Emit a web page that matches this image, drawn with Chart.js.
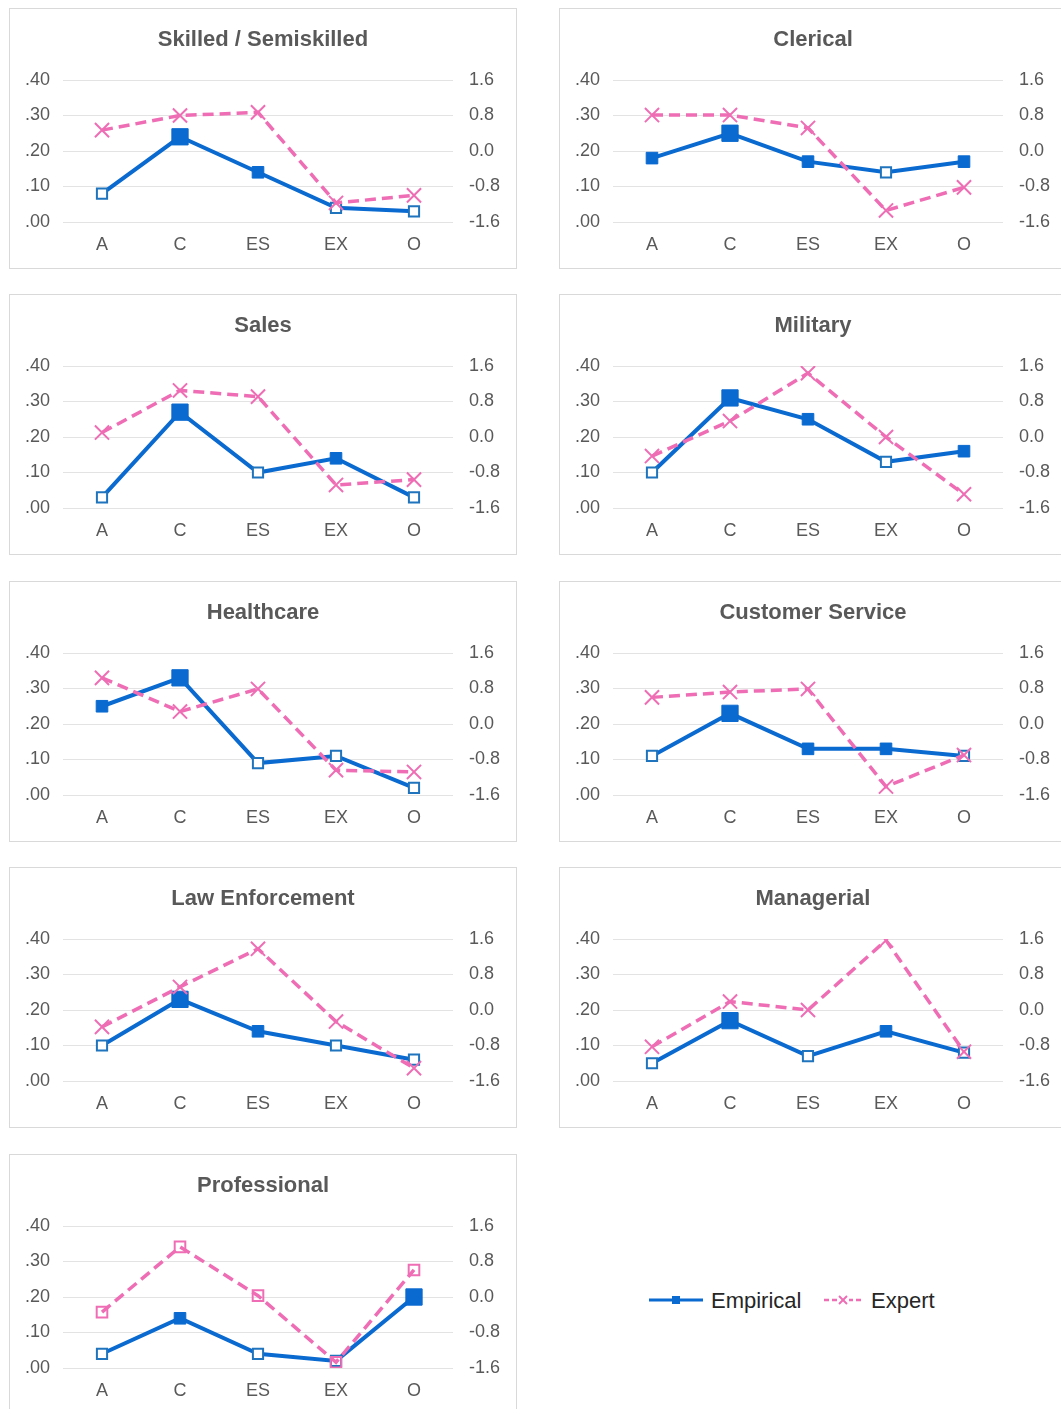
<!DOCTYPE html>
<html>
<head>
<meta charset="utf-8">
<script src="https://cdn.jsdelivr.net/npm/chart.js@4.4.1/dist/chart.umd.min.js"></script>
<style>
  html, body { margin: 0; padding: 0; background: #ffffff; overflow: hidden; width: 1061px; height: 1409px; }
  #page { position: relative; width: 1061px; height: 1409px; overflow: hidden; }
  .panel { position: absolute; width: 508px; height: 261px; }
  .panel canvas { position: absolute; left: 0; top: 0; }
  .frame { position: absolute; left: 0; top: 0; width: 508px; height: 261px; box-sizing: border-box; border: 1px solid #d9d9d9; pointer-events: none; }
  #legend { position: absolute; left: 640px; top: 1280px; }
</style>
</head>
<body>
<div id="page"></div>
<script>
// Big Five trait categories on the x axis
const categories = ['A', 'C', 'ES', 'EX', 'O'];

const panelTitles = [
  'Skilled / Semiskilled', 'Clerical',
  'Sales', 'Military',
  'Healthcare', 'Customer Service',
  'Law Enforcement', 'Managerial',
  'Professional'
];

// Empirical validities (left axis, .00 – .40)
const empiricalValues = [
  [0.08, 0.24, 0.14, 0.04, 0.03],
  [0.18, 0.25, 0.17, 0.14, 0.17],
  [0.03, 0.27, 0.10, 0.14, 0.03],
  [0.10, 0.31, 0.25, 0.13, 0.16],
  [0.25, 0.33, 0.09, 0.11, 0.02],
  [0.11, 0.23, 0.13, 0.13, 0.11],
  [0.10, 0.23, 0.14, 0.10, 0.06],
  [0.05, 0.17, 0.07, 0.14, 0.08],
  [0.04, 0.14, 0.04, 0.02, 0.20]
];

// Marker class of each empirical point: 2 = strongest, 1 = notable, 0 = other
const empiricalLevel = [
  [0, 2, 1, 0, 0],
  [1, 2, 1, 0, 1],
  [0, 2, 0, 1, 0],
  [0, 2, 1, 0, 1],
  [1, 2, 0, 0, 0],
  [0, 2, 1, 1, 0],
  [0, 2, 1, 0, 0],
  [0, 2, 0, 1, 0],
  [0, 1, 0, 0, 2]
];

// Expert ratings (right axis, -1.6 – 1.6)
const expertValues = [
  [0.47, 0.80, 0.87, -1.17, -1.00],
  [0.81, 0.81, 0.52, -1.34, -0.82],
  [0.10, 1.05, 0.91, -1.08, -0.96],
  [-0.43, 0.36, 1.44, 0.00, -1.29],
  [1.04, 0.28, 0.79, -1.04, -1.08],
  [0.60, 0.72, 0.79, -1.41, -0.70],
  [-0.38, 0.52, 1.38, -0.26, -1.31],
  [-0.83, 0.19, 0.00, 1.57, -0.94],
  [-0.34, 1.13, 0.03, -1.47, 0.61]
];

const leftTicks = [0, 0.10, 0.20, 0.30, 0.40];
const rightTicks = [-1.6, -0.8, 0.0, 0.8, 1.6];

// Panels whose expert markers are drawn as open squares
const squareExpertPanels = ['Professional'];

const BLUE = '#0a6ad0';
const BLUE_OPEN = '#1f74bd';
const PINK = '#ee6db4';
const TEXT = '#595959';
const GRID = '#e3e3e3';
const FONT = '"Liberation Sans", Arial, sans-serif';

function fmtLeft(v) {
  return Number(v).toFixed(2).replace(/^0/, '').replace(/^-0/, '-');
}
function fmtRight(v) {
  const s = Number(v).toFixed(1);
  return s === '-0.0' ? '0.0' : s;
}

const page = document.getElementById('page');

function makePanel(i) {
  const col = i % 2;
  const row = Math.floor(i / 2);
  const left = col === 0 ? 9 : 559;
  const top = Math.round(7.5 + 286.5 * row);

  const wrap = document.createElement('div');
  wrap.className = 'panel';
  wrap.style.left = left + 'px';
  wrap.style.top = top + 'px';
  const canvas = document.createElement('canvas');
  canvas.width = 508;
  canvas.height = 261;
  canvas.style.width = '508px';
  canvas.style.height = '261px';
  wrap.appendChild(canvas);
  const frame = document.createElement('div');
  frame.className = 'frame';
  wrap.appendChild(frame);
  page.appendChild(wrap);

  const lv = empiricalLevel[i];
  const squareExpert = squareExpertPanels.includes(panelTitles[i]);

  new Chart(canvas, {
    type: 'line',
    data: {
      labels: categories,
      datasets: [
        {
          label: 'Empirical',
          data: empiricalValues[i],
          yAxisID: 'y',
          order: 2,
          borderColor: BLUE,
          borderWidth: 4,
          tension: 0,
          fill: false,
          pointStyle: 'rect',
          pointRadius: lv.map(l => l === 2 ? 11.5 : (l === 1 ? 8.2 : 7.2)),
          pointBackgroundColor: lv.map(l => l === 0 ? '#ffffff' : BLUE),
          pointBorderColor: lv.map(l => l === 0 ? BLUE_OPEN : BLUE),
          pointBorderWidth: lv.map(l => l === 0 ? 2 : 1)
        },
        {
          label: 'Expert',
          data: expertValues[i],
          yAxisID: 'y2',
          order: 1,
          borderColor: PINK,
          borderWidth: 3.5,
          borderDash: [11, 6],
          tension: 0,
          fill: false,
          pointStyle: squareExpert ? 'rect' : 'crossRot',
          pointRadius: squareExpert ? 7.5 : 10,
          pointBackgroundColor: squareExpert ? 'rgba(255,255,255,0)' : PINK,
          pointBorderColor: PINK,
          pointBorderWidth: 2
        }
      ]
    },
    options: {
      responsive: false,
      animation: false,
      events: [],
      layout: { padding: 0 },
      plugins: {
        legend: { display: false },
        tooltip: { enabled: false },
        title: {
          display: true,
          text: panelTitles[i],
          color: TEXT,
          font: { family: FONT, size: 22, weight: 'bold' },
          padding: { top: 19, bottom: 26.6 }
        }
      },
      scales: {
        x: {
          type: 'category',
          offset: true,
          grid: { display: false, drawTicks: false },
          border: { display: false },
          ticks: { color: TEXT, font: { family: FONT, size: 18 }, padding: 12, maxRotation: 0 },
          afterFit: s => { s.height = 47; }
        },
        y: {
          position: 'left',
          min: 0,
          max: 0.4,
          afterBuildTicks: s => { s.ticks = leftTicks.map(v => ({ value: v })); },
          ticks: { color: TEXT, font: { family: FONT, size: 18 }, padding: 13, callback: v => fmtLeft(v) },
          grid: { color: GRID, lineWidth: 1, drawTicks: false },
          border: { display: false },
          afterFit: s => { s.width = 54; }
        },
        y2: {
          position: 'right',
          min: -1.6,
          max: 1.6,
          afterBuildTicks: s => { s.ticks = rightTicks.map(v => ({ value: v })); },
          ticks: { color: TEXT, font: { family: FONT, size: 18 }, padding: 16, callback: v => fmtRight(v) },
          grid: { display: false, drawTicks: false },
          border: { display: false },
          afterFit: s => { s.width = 64; }
        }
      }
    }
  });
}

for (let i = 0; i < panelTitles.length; i++) makePanel(i);

// Series key in the empty ninth cell
const legendSvg = `
<svg id="legend" width="320" height="40" xmlns="http://www.w3.org/2000/svg">
  <line x1="9" y1="20" x2="63" y2="20" stroke="${BLUE}" stroke-width="3"/>
  <rect x="32" y="16" width="8" height="8" fill="${BLUE}"/>
  <text x="71" y="20" dominant-baseline="central" font-family='${FONT}' font-size="22" fill="#262626">Empirical</text>
  <line x1="184" y1="20" x2="223" y2="20" stroke="${PINK}" stroke-width="2.5" stroke-dasharray="5,3"/>
  <rect x="197" y="14" width="12" height="12" fill="#ffffff"/>
  <line x1="199" y1="16" x2="207" y2="24" stroke="${PINK}" stroke-width="2"/>
  <line x1="207" y1="16" x2="199" y2="24" stroke="${PINK}" stroke-width="2"/>
  <text x="231" y="20" dominant-baseline="central" font-family='${FONT}' font-size="22" fill="#262626">Expert</text>
</svg>`;
page.insertAdjacentHTML('beforeend', legendSvg);
</script>
</body>
</html>
